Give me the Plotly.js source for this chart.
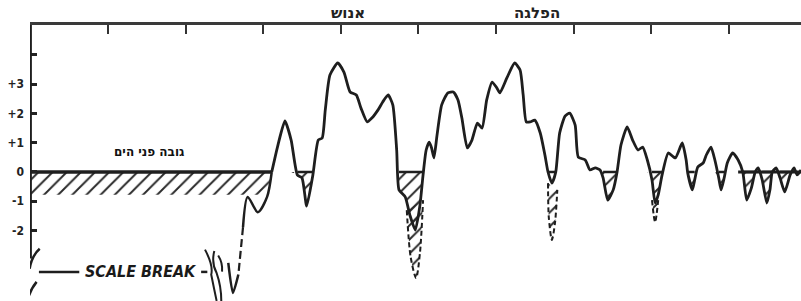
<!DOCTYPE html>
<html>
<head>
<meta charset="utf-8">
<script src="https://cdn.plot.ly/plotly-3.0.1.min.js"></script>
<style>html,body{margin:0;padding:0;background:#fff;}#chart{width:801px;height:301px;}</style>
</head>
<body>
<div id="chart"></div>
<script>
// ---- data ----
const mainX = [3.11,3.19,3.28,3.36,3.44,3.50,3.56,3.64,3.71,3.76,
  3.80,3.86,3.96,4.04,4.12,4.20,4.26,4.34,4.40,4.48,
  4.54,4.61,4.67,4.72,4.75,4.83,4.89,4.96,5.02,5.06,
  5.10,5.14,5.17,5.20,5.24,5.30,5.38,5.45,5.51,5.56,
  5.63,5.69,5.76,5.82,5.88,5.95,6.01,6.05,6.14,6.24,
  6.31,6.35,6.39,6.44,6.50,6.57,6.63,6.67,6.72,6.77,
  6.82,6.89,6.95,7.02,7.06,7.15,7.21,7.28,7.34,7.38,
  7.44,7.51,7.56,7.61,7.69,7.76,7.83,7.89,7.95,8.01,
  8.05,8.09,8.14,8.22,8.31,8.40,8.45,8.47,8.53,8.56,
  8.60,8.67,8.71,8.77,8.82,8.87,8.90,8.94,8.98,9.05,
  9.12,9.18,9.23,9.29,9.34,9.38,9.43,9.49,9.53,9.56,
  9.61,9.66,9.72,9.79,9.84,9.88,9.93];
const mainY = [0,0.92,1.74,1.09,-0.10,-0.20,-1.16,-0.10,1.09,1.16,
  2.12,3.31,3.72,3.41,2.73,2.63,2.18,1.71,1.84,2.12,
  2.39,2.63,2.29,0.75,-0.61,-0.85,-1.47,-1.98,-1.13,-0.10,
  0.75,1.02,0.82,0.48,1.26,2.29,2.70,2.73,2.46,1.84,
  0.82,1.09,1.67,1.50,2.46,3.07,2.87,2.70,3.21,3.72,
  3.48,2.63,1.71,1.71,1.77,1.33,0.58,0,-0.38,0,
  1.33,1.91,2.01,1.60,0.51,0.41,0.07,0.14,0.07,-0.20,
  -0.96,-0.61,0,0.92,1.54,1.09,0.75,0.85,0.41,-0.27,
  -1.06,-0.78,-0.10,0.65,0.48,0.99,0.41,-0.03,-0.61,-0.27,
  0.17,0.31,0.58,0.85,0.41,-0.20,-0.61,-0.20,0.31,0.65,
  0.41,0,-0.96,-0.55,0,0.14,-0.27,-1.06,-0.61,0,
  0.14,-0.20,-0.68,-0.10,0.14,-0.10,0.07];

// early low curve (left of the main rise)
const wiggleX = [2.74,2.80,2.93,3.05,3.11];
const wiggleY = [-1.88,-0.85,-1.37,-0.85,0];
const descentX = [2.74,2.71,2.68];
const descentY = [-1.88,-2.70,-3.50];
const troughX = [2.68,2.61,2.55];
const troughY = [-3.50,-4.13,-3.10];

// dashed deeper alternatives
const dash1X = [4.85,4.90,4.97,5.02,5.06];
const dash1Y = [-1.30,-2.90,-3.62,-2.76,-0.96];
const dash2X = [6.67,6.68,6.72,6.76,6.79];
const dash2Y = [-0.38,-1.54,-2.32,-1.74,-0.61];
const dash3X = [8.01,8.05,8.09];
const dash3Y = [-0.96,-1.71,-0.96];

// sea level line and hatched band
const seaLeftX = [0, 3.11];
const seaRightX = [9.12, 9.93];
const bandDepth = -0.78;

const yTicks = [-2,-1,0,1,2,3,4];
const yTickText = ['-2','-1','0','+1','+2','+3',''];
const xTicks = [1,2,3,4,5,6,7,8,9];

// ---- traces ----
const ink = '#1e1e1e';
const hatch = {shape:'/', fgcolor:'#2a2a2a', bgcolor:'rgba(0,0,0,0)', size:10, solidity:0.2};
const traces = [];

// hatched band under the left sea line
traces.push({x: seaLeftX, y: seaLeftX.map(()=>0), mode:'lines', line:{width:0}, hoverinfo:'skip'});
traces.push({x: [seaLeftX[0], 3.05], y: [bandDepth, bandDepth], mode:'lines', line:{width:0},
  fill:'tonexty', fillcolor:'rgba(0,0,0,0)', fillpattern: hatch, hoverinfo:'skip'});

// hatched dips below sea level along the main curve
traces.push({x: mainX, y: mainX.map(()=>0), mode:'lines', line:{width:0}, hoverinfo:'skip'});
traces.push({x: mainX, y: mainY.map(v=>Math.min(v,0)), mode:'lines', line:{width:0},
  fill:'tonexty', fillcolor:'rgba(0,0,0,0)', fillpattern: hatch, hoverinfo:'skip'});

// dashed deeper troughs with hatch
[[dash1X,dash1Y],[dash2X,dash2Y],[dash3X,dash3Y]].forEach(([dx,dy])=>{
  traces.push({x: dx, y: dy, mode:'lines', line:{color:ink, width:2, dash:'5px,3px', shape:'spline', smoothing:0.8},
    fill:'toself', fillcolor:'rgba(0,0,0,0)', fillpattern: hatch, hoverinfo:'skip'});
});

// sea level lines
traces.push({x: seaLeftX, y: seaLeftX.map(()=>0), mode:'lines', line:{color:ink, width:3.5}, hoverinfo:'skip'});
traces.push({x: seaRightX, y: seaRightX.map(()=>0), mode:'lines', line:{color:ink, width:3}, hoverinfo:'skip'});
traces.push({x: mainX, y: mainY.map(v=> v<=0 ? 0 : null), mode:'lines', line:{color:ink, width:2.5}, connectgaps:false, hoverinfo:'skip'});

// early curve
traces.push({x: wiggleX, y: wiggleY, mode:'lines', line:{color:ink, width:2.5, shape:'spline', smoothing:0.8}, hoverinfo:'skip'});
traces.push({x: descentX, y: descentY, mode:'lines', line:{color:ink, width:2.2, dash:'8px,4px'}, hoverinfo:'skip'});
traces.push({x: troughX, y: troughY, mode:'lines', line:{color:ink, width:2.5, shape:'spline', smoothing:0.6}, hoverinfo:'skip'});

// main curve
traces.push({x: mainX, y: mainY, mode:'lines', line:{color:ink, width:2.8, shape:'spline', smoothing:0.55}, hoverinfo:'skip'});

const hebFont = {family:'DejaVu Sans, Noto Sans', size:15, color:'#222', weight:'bold'};
const layout = {
  width: 801, height: 301,
  margin: {l:30, r:0, t:25, b:0, pad:0},
  paper_bgcolor:'#fff', plot_bgcolor:'#fff',
  showlegend:false,
  xaxis: {range:[-0.005, 9.93], side:'top', showline:true, linewidth:3, linecolor:'#3a3a3a',
    ticks:'inside', ticklen:9, tickwidth:2, tickcolor:'#333', tickvals:xTicks,
    showticklabels:false, showgrid:false, zeroline:false, fixedrange:true},
  yaxis: {range:[-4.403, 5.017], showline:false, ticks:'inside', ticklen:7, tickwidth:3, tickcolor:'#222',
    tickvals:yTicks, ticktext:yTickText, ticklabelstandoff:5,
    tickfont:{family:'DejaVu Sans Condensed, DejaVu Sans', size:12, color:'#222', weight:'bold'},
    showgrid:false, zeroline:false, fixedrange:true},
  shapes: [
    {type:'line', xref:'x', yref:'y', x0:0, x1:0, y0:-2.95, y1:5.017, line:{color:ink, width:3}},
    {type:'path', xref:'x', yref:'y', path:'M 0.12,-2.62 Q 0.02,-2.85 -0.01,-3.3', line:{color:ink, width:2.5}},
    {type:'path', xref:'x', yref:'y', path:'M 0.08,-3.75 Q 0.0,-4.0 -0.04,-4.4', line:{color:ink, width:2.5}},
    {type:'line', xref:'x', yref:'y', x0:0.11, x1:0.63, y0:-3.41, y1:-3.41, line:{color:ink, width:2.5}},
    {type:'line', xref:'x', yref:'y', x0:2.20, x1:2.28, y0:-3.41, y1:-3.41, line:{color:ink, width:2.5}},
    {type:'path', xref:'x', yref:'y', path:'M 2.25,-2.65 Q 2.36,-3.2 2.33,-3.5 Q 2.36,-3.9 2.40,-4.4', line:{color:ink, width:2}},
    {type:'path', xref:'x', yref:'y', path:'M 2.37,-2.7 Q 2.33,-3.1 2.40,-3.45 Q 2.46,-3.9 2.46,-4.4', line:{color:ink, width:2}},
    {type:'path', xref:'x', yref:'y', path:'M 2.42,-2.85 Q 2.48,-3.1 2.47,-3.4', line:{color:ink, width:2}}
  ],
  annotations: [
    {text:'אנוש', xref:'x', yref:'paper', x:4.09, y:1.045, xanchor:'center', yanchor:'middle', showarrow:false, font:hebFont},
    {text:'הפלגה', xref:'x', yref:'paper', x:6.53, y:1.045, xanchor:'center', yanchor:'middle', showarrow:false, font:hebFont},
    {text:'גובה פני הים', xref:'x', yref:'y', x:1.53, y:0.68, xanchor:'center', yanchor:'middle', showarrow:false,
      font:{family:'DejaVu Sans, Noto Sans', size:12, color:'#111', weight:'bold'}},
    {text:'SCALE BREAK', xref:'x', yref:'y', x:1.43, y:-3.41, xanchor:'center', yanchor:'middle', showarrow:false,
      font:{family:'DejaVu Sans Condensed, DejaVu Sans', size:16, color:'#1a1a1a', weight:'bold', style:'italic'}}
  ]
};

Plotly.newPlot('chart', traces, layout, {displayModeBar:false, staticPlot:true});
</script>
</body>
</html>
